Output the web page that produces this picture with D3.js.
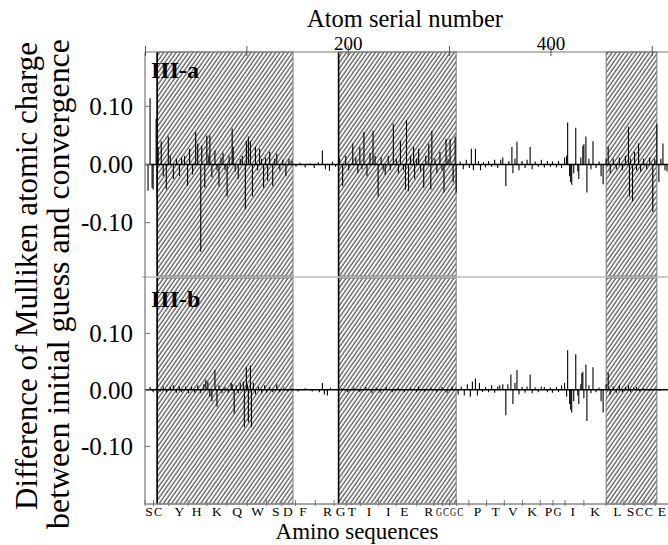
<!DOCTYPE html>
<html><head><meta charset="utf-8">
<script src="https://cdn.jsdelivr.net/npm/d3@7"></script>
<style>body{margin:0;background:#fff}svg{display:block}text{font-family:"Liberation Serif","DejaVu Serif",serif;fill:#000}</style>
</head><body><svg id="c" width="668" height="545"></svg>
<script>
// ---- data ----
const topTicks = [0, 100, 200, 300, 400, 500];
const topTickLabels = ["", "", "200", "", "400", ""];
const yTicks = [0.10, 0.00, -0.10];
const yTickLabels = ["0.10", "0.00", "-0.10"];
const panelNames = ["III-a", "III-b"];
// hatched (shaded) atom ranges
const hatchStart = [12, 191, 455];
const hatchEnd = [146, 307, 505];
// amino sequence labels and their atom positions
const aminoLabels = ["S","C","Y","H","K","Q","W","S","D","F","R","G","T","I","I","E","R","G","C","G","C","P","T","V","K","P","G","I","K","L","S","C","C","E"];
const aminoAtoms = [4,13,34,51,71,91,111,129,141,156,180,193,204,221,240,256,280,290,297,304,311,328,346,363,382,398,407,422,444,466,479,488,497,510];
// panel III-a : atom serial numbers and charge differences
const atomsA = [3,5,7,8,11,12,13,16,18,21,23,25,28,31,34,36,39,42,44,47,50,52,55,56,59,61,63,64,66,69,71,73,75,77,79,81,83,86,87,89,92,94,96,99,100,102,104,106,109,111,113,115,117,119,121,123,126,128,130,133,136,139,142,145,
149,153,158,163,167,171,175,178,182,185,188,
192,195,198,201,205,208,210,212,214,216,219,222,225,227,230,233,235,237,240,242,245,248,250,252,255,257,258,260,262,265,266,268,270,272,275,277,280,282,283,286,288,291,293,295,297,299,301,304,306,307,
311,314,317,320,322,324,326,329,331,334,336,339,342,345,348,351,353,356,359,362,363,365,367,369,372,375,377,380,382,385,388,391,394,397,400,402,406,408,411,414,416,417,419,420,421,423,425,427,428,430,432,433,435,436,438,440,442,445,448,450,452,
455,457,459,462,465,468,471,474,477,478,479,481,483,485,487,489,492,495,498,501,503,505,507,509,511,513,515];
const diffA = [-0.045,0.114,-0.04,-0.043,0.079,-0.06,0.03,0.04,-0.02,-0.043,0.048,0.015,-0.025,0.01,-0.02,0.012,0.015,-0.037,0.027,-0.017,0.056,0.036,-0.15,0.032,-0.04,0.05,0.015,0.05,-0.022,0.024,-0.01,-0.037,0.012,0.02,-0.01,-0.055,0.015,0.062,0.03,-0.012,-0.025,0.01,0.015,-0.077,0.041,0.048,0.04,-0.055,0.03,-0.01,0.027,0.01,-0.04,0.012,-0.028,0.022,-0.037,0.01,0.019,-0.01,0.008,-0.02,0.01,0.006,
-0.004,0.003,-0.005,0.002,-0.006,0.004,0.024,-0.008,-0.011,0.005,-0.004,
0.01,-0.037,0.015,-0.01,0.036,0.012,-0.015,0.03,-0.008,0.056,-0.02,0.02,0.058,0.015,-0.055,0.012,-0.01,-0.018,0.015,-0.01,0.07,0.01,-0.015,0.041,-0.01,-0.043,0.076,-0.046,0.015,0.03,-0.025,0.01,0.027,-0.012,-0.04,0.015,0.036,-0.043,0.058,0.01,-0.015,0.022,-0.01,-0.048,0.044,0.01,0.044,-0.03,0.048,-0.048,
0.005,-0.008,0.008,-0.006,0.027,-0.01,0.027,0.006,-0.01,0.004,-0.005,0.006,-0.004,0.008,-0.006,0.008,0.012,-0.037,0.006,0.03,-0.015,0.01,0.039,-0.01,0.006,-0.006,0.008,0.03,-0.008,0.005,-0.004,0.008,-0.005,0.006,-0.004,0.005,-0.005,0.006,-0.006,0.012,0.015,0.072,-0.02,-0.03,-0.035,-0.015,0.063,-0.012,-0.025,0.012,0.032,0.035,0.048,-0.048,0.01,-0.008,0.04,-0.006,0.005,-0.02,-0.034,
0.01,0.03,-0.015,0.01,-0.008,0.012,-0.01,0.015,0.065,-0.055,0.01,-0.063,0.022,-0.01,0.036,-0.012,0.01,-0.008,0.012,-0.081,0.01,0.07,-0.03,0.01,0.036,-0.01,-0.012];
// panel III-b
const atomsB = [5,8,11,15,18,21,25,28,31,34,36,40,43,46,49,52,55,58,60,62,64,66,69,71,73,76,79,82,85,86,88,90,92,94,97,98,100,101,102,104,105,107,109,112,115,118,120,123,126,130,133,137,141,145,
151,158,165,172,175,177,180,183,
194,200,206,212,218,224,228,232,238,244,250,256,262,268,270,276,282,288,293,298,303,
309,312,315,318,321,323,326,328,330,333,336,339,342,345,348,350,353,356,358,361,363,365,367,369,372,375,377,380,382,385,388,391,394,397,400,402,406,408,411,414,416,417,419,420,421,423,425,427,428,430,431,432,433,435,436,438,440,442,445,448,450,452,
455,457,459,462,465,468,471,474,477,479,482,485,488,492,498,504,508,513];
const diffB = [0.005,-0.004,0.003,-0.003,0.006,-0.004,0.005,0.008,-0.005,0.006,-0.004,0.006,-0.006,0.005,-0.005,0.008,-0.006,0.01,0.018,0.015,-0.012,-0.02,0.035,-0.03,0.008,-0.006,0.005,-0.005,0.012,0.01,-0.042,0.008,-0.006,0.012,0.015,-0.066,0.04,0.01,-0.057,0.043,-0.066,0.012,-0.008,0.006,-0.005,0.008,-0.005,0.005,-0.004,0.01,-0.004,0.004,-0.003,0.003,
-0.003,0.003,-0.003,-0.004,0.012,-0.008,-0.01,0.004,
0.003,-0.004,0.004,-0.004,0.005,-0.006,0.004,-0.005,0.005,-0.004,0.003,-0.004,0.004,-0.004,0.006,-0.003,0.004,-0.004,0.005,-0.005,0.006,
-0.008,0.006,-0.01,0.01,-0.012,0.015,0.02,-0.01,0.012,-0.004,0.005,-0.004,0.008,-0.005,0.006,0.008,0.01,-0.045,0.01,0.027,-0.025,0.012,0.035,-0.008,0.005,-0.005,0.006,0.027,-0.006,0.004,-0.004,0.006,0.005,-0.004,0.004,-0.005,0.005,-0.004,0.008,0.012,-0.012,0.07,-0.025,-0.035,-0.04,-0.02,0.063,-0.01,-0.025,0.01,0.03,0.032,-0.015,0.045,-0.055,0.008,-0.006,0.04,-0.004,0.004,-0.02,-0.04,
0.01,0.03,-0.008,0.006,-0.005,0.008,-0.004,0.005,0.008,-0.004,0.004,0.005,-0.003,0.003,-0.002,0.002,-0.002,0.002];

// ---- drawing ----
const svg = d3.select("#c");
const X0 = 145, X1 = 669;
const x = d3.scaleLinear().domain([0, 517]).range([X0, X1]);
const panels = [
  {name: panelNames[0], atoms: atomsA, diff: diffA, y: d3.scaleLinear().domain([-0.1916, 0.1933]).range([276, 52])},
  {name: panelNames[1], atoms: atomsB, diff: diffB, y: d3.scaleLinear().domain([-0.202, 0.198]).range([504, 278])}
];

const defs = svg.append("defs");
const pat = defs.append("pattern").attr("id", "hatch").attr("patternUnits", "userSpaceOnUse")
  .attr("width", 3.4).attr("height", 10).attr("patternTransform", "rotate(35)");
pat.append("line").attr("x1", 1).attr("y1", -1).attr("x2", 1).attr("y2", 11)
  .attr("stroke", "#1e1e1e").attr("stroke-width", 0.95);

panels.forEach((p, pi) => {
  const [yb, yt] = p.y.range();
  svg.append("g").selectAll("rect").data(hatchStart).join("rect")
    .attr("x", (d) => x(d)).attr("y", yt)
    .attr("width", (d, i) => x(hatchEnd[i]) - x(d)).attr("height", yb - yt)
    .attr("fill", "url(#hatch)").attr("stroke", "#7a7a7a").attr("stroke-width", 1);
  svg.append("g").selectAll("line").data(hatchStart.slice(0, 2)).join("line")
    .attr("x1", (d) => x(d)).attr("x2", (d) => x(d)).attr("y1", yt).attr("y2", yb)
    .attr("stroke", "#000").attr("stroke-width", 1.6);
  svg.append("line").attr("x1", X0).attr("x2", X1).attr("y1", p.y(0)).attr("y2", p.y(0))
    .attr("stroke", "#000").attr("stroke-width", 1.5);
  svg.append("g").selectAll("line").data(p.atoms).join("line")
    .attr("x1", (d) => x(d)).attr("x2", (d) => x(d))
    .attr("y1", p.y(0)).attr("y2", (d, i) => p.y(p.diff[i]))
    .attr("stroke", "#000").attr("stroke-width", 1.1);
  const ya = svg.append("g");
  ya.selectAll("line").data(yTicks).join("line")
    .attr("x1", X0).attr("x2", X0 + 5).attr("y1", (d) => p.y(d)).attr("y2", (d) => p.y(d))
    .attr("stroke", "#666");
  ya.selectAll("text").data(yTicks).join("text")
    .attr("x", 133).attr("y", (d) => p.y(d)).attr("dy", "0.35em")
    .attr("text-anchor", "end").attr("font-size", 25).text((d, i) => yTickLabels[i]);
  svg.append("text").attr("x", 151).attr("y", pi === 0 ? 78 : 307)
    .attr("font-size", 24).attr("font-weight", "bold").text(p.name);
});

// frame lines
svg.append("line").attr("x1", X0).attr("x2", X1).attr("y1", 52).attr("y2", 52).attr("stroke", "#777").attr("stroke-width", 1.2);
svg.append("line").attr("x1", X0 - 3).attr("x2", X1).attr("y1", 277).attr("y2", 277).attr("stroke", "#999").attr("stroke-width", 1);
svg.append("line").attr("x1", X0).attr("x2", X1).attr("y1", 504).attr("y2", 504).attr("stroke", "#888").attr("stroke-width", 1.6);
svg.append("line").attr("x1", X0).attr("x2", X0).attr("y1", 52).attr("y2", 504).attr("stroke", "#777").attr("stroke-width", 1.2);

// top axis (atom serial number)
const topAxis = d3.axisTop(x).tickValues(topTicks).tickFormat((d, i) => topTickLabels[i]).tickSize(6);
const gt = svg.append("g").attr("transform", "translate(0,52)").call(topAxis);
gt.attr("font-family", null);
gt.select(".domain").remove();
gt.selectAll(".tick line").attr("stroke", "#555").attr("y1", 4).attr("y2", -6);
gt.selectAll(".tick text").attr("font-size", 19).attr("fill", "#000").attr("y", -2).attr("dy", null);
svg.append("text").attr("x", 405).attr("y", 27).attr("text-anchor", "middle").attr("font-size", 24.5).text("Atom serial number");

// bottom amino labels with ticks between residues
const mids = aminoAtoms.slice(1).map((a, i) => (a + aminoAtoms[i]) / 2);
const gb = svg.append("g");
gb.selectAll("line").data([aminoAtoms[0] - 4].concat(mids)).join("line")
  .attr("x1", (d) => x(d)).attr("x2", (d) => x(d)).attr("y1", 500).attr("y2", 506)
  .attr("stroke", "#777").attr("stroke-width", 1);
gb.selectAll("text").data(aminoAtoms).join("text")
  .attr("transform", (d) => `translate(${x(d)},516)`).attr("text-anchor", "middle")
  .attr("font-size", 13.5).text((d, i) => aminoLabels[i])
  .each(function (d, i) {
    const px = x(d);
    const left = i > 0 ? px - x(aminoAtoms[i - 1]) : 40;
    const right = i < aminoAtoms.length - 1 ? x(aminoAtoms[i + 1]) - px : 40;
    const avail = Math.min(left, right) - 1;
    const w = this.getComputedTextLength();
    if (w > avail) d3.select(this).attr("transform", `translate(${px},516) scale(${avail / w},1)`);
  });
svg.append("text").attr("x", 357).attr("y", 539).attr("text-anchor", "middle").attr("font-size", 23).text("Amino sequences");

// y axis title (two lines)
const t1 = svg.append("text").attr("transform", "translate(37,276) rotate(-90)").attr("text-anchor", "middle")
  .attr("font-size", 28).text("Difference of Mulliken atomic charge");
const t2 = svg.append("text").attr("transform", "translate(69,284) rotate(-90)").attr("text-anchor", "middle")
  .attr("font-size", 28).text("between initial guess and convergence");
[[t1, 468], [t2, 490]].forEach(([t, L]) => {
  const len = t.node().getComputedTextLength();
  t.attr("font-size", 28 * L / len);
});
</script></body></html>
